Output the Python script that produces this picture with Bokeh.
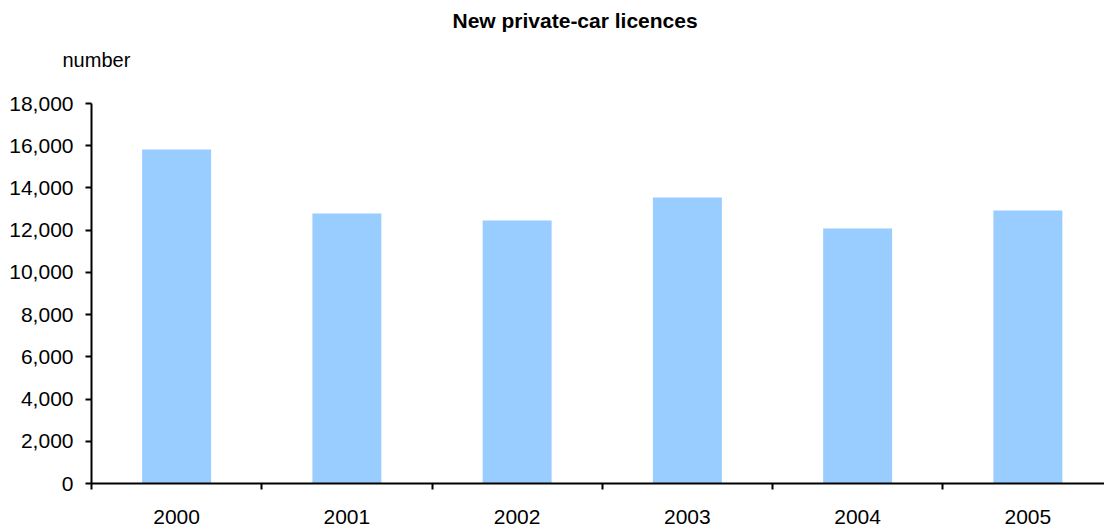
from bokeh.plotting import figure
from bokeh.models import Range1d, FixedTicker, NumeralTickFormatter, Title
from bokeh.embed import file_html
from bokeh.resources import INLINE

years = ["2000", "2001", "2002", "2003", "2004", "2005"]
licences = [15820, 12790, 12460, 13550, 12080, 12930]
y_ticks = [0, 2000, 4000, 6000, 8000, 10000, 12000, 14000, 16000, 18000]

xs = list(range(len(years)))

p = figure(width=1104, height=528, output_backend="svg", toolbar_location=None,
           x_range=Range1d(-0.5, 5.45), y_range=Range1d(0, 18000),
           min_border_left=91, min_border_right=0, min_border_top=0, min_border_bottom=45)
p.outline_line_color = None
p.xgrid.visible = False
p.ygrid.visible = False
p.background_fill_color = "white"
p.border_fill_color = "white"

p.vbar(x=xs, top=licences, width=0.405, fill_color="#99CCFF", line_color=None)

font = "Liberation Sans"
fs = "21px"
# x axis
p.xaxis.ticker = FixedTicker(ticks=xs, minor_ticks=[i - 0.5 for i in xs] + [5.5])
p.xaxis.major_label_overrides = {i: y for i, y in enumerate(years)}
p.xaxis.major_tick_out = 0
p.xaxis.major_tick_in = 0
p.xaxis.minor_tick_out = 6
p.xaxis.minor_tick_in = 0
p.xaxis.minor_tick_line_width = 2
p.xaxis.axis_line_width = 2
p.xaxis.axis_line_color = "black"
p.xaxis.minor_tick_line_color = "black"
p.xaxis.major_label_text_font = font
p.xaxis.major_label_text_font_size = fs
p.xaxis.major_label_text_color = "black"
p.xaxis.major_label_standoff = 20

# y axis
p.yaxis.ticker = FixedTicker(ticks=y_ticks)
p.yaxis.formatter = NumeralTickFormatter(format="0,0")
p.yaxis.minor_tick_out = 0
p.yaxis.minor_tick_in = 0
p.yaxis.major_tick_out = 6
p.yaxis.major_tick_in = 0
p.yaxis.major_tick_line_width = 2
p.yaxis.axis_line_width = 2
p.yaxis.axis_line_color = "black"
p.yaxis.major_tick_line_color = "black"
p.yaxis.major_label_text_font = font
p.yaxis.major_label_text_font_size = fs
p.yaxis.major_label_text_color = "black"
p.yaxis.major_label_standoff = 12

spacer = Title(text=" ", align="left", standoff=1,
               text_font=font, text_font_size="20px", text_color="white")
unit = Title(text="number", align="left", offset=-29, standoff=16,
             text_font=font, text_font_size="20px", text_font_style="normal", text_color="black")
title = Title(text="New private-car licences", align="left", offset=361, standoff=13,
              text_font=font, text_font_size="21px", text_font_style="bold", text_color="black")
p.add_layout(spacer, "above")
p.add_layout(unit, "above")
p.add_layout(title, "above")

open("out.html", "w").write(file_html(p, INLINE))
